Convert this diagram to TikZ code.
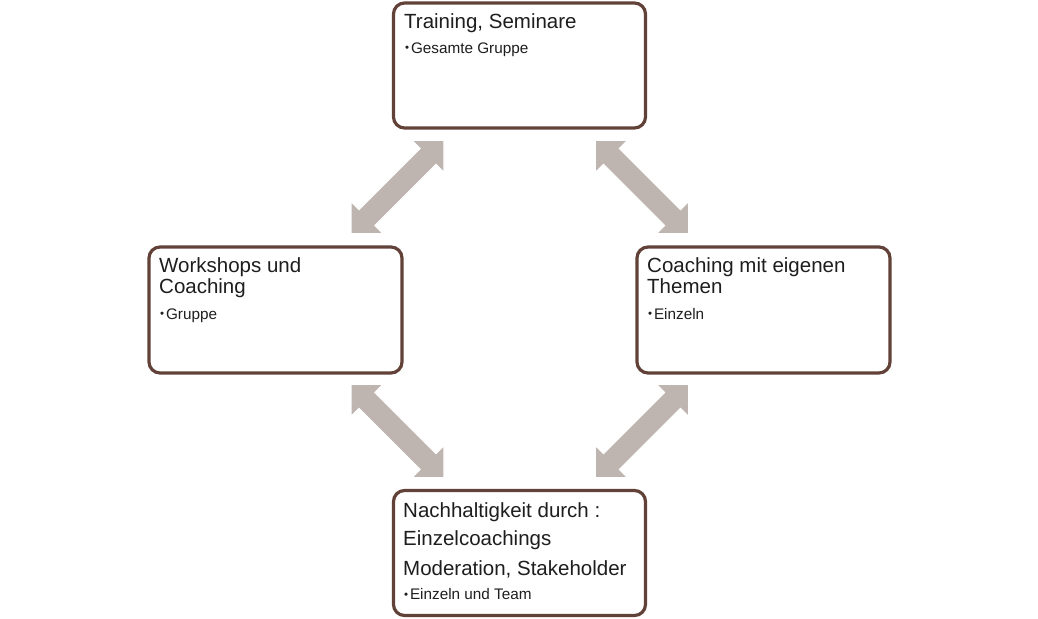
\documentclass[tikz,border=0pt]{standalone}
\usepackage{fontspec}
\setmainfont{Liberation Sans}
\definecolor{boxline}{RGB}{98,66,56}
\definecolor{arrowfill}{RGB}{190,180,176}
\definecolor{txt}{RGB}{30,30,30}
\newcommand\smallbul{\raisebox{1.2pt}{\fontsize{11.5}{12}\selectfont•}\kern1.8pt}
\begin{document}
\begin{tikzpicture}[x=1pt,y=-1pt,
  card/.style={draw=boxline,line width=3.2pt,fill=white,rounded corners=11pt},
  title/.style={anchor=base west,inner sep=0pt,text=txt,font=\fontsize{20.5}{22}\selectfont},
  bul/.style={anchor=base west,inner sep=0pt,text=txt,font=\fontsize{15.3}{17}\selectfont},
  dblarr/.pic={\fill[arrowfill] (-65,0) -- (-44,21) -- (-44,10.5) -- (44,10.5) -- (44,21) -- (65,0) -- (44,-21) -- (44,-10.5) -- (-44,-10.5) -- (-44,-21) -- cycle;}
]
\useasboundingbox (0,0) rectangle (1038,618);
\fill[white] (0,0) rectangle (1038,618);
% boxes
\draw[card] (393.5,3) rectangle (645.5,128) node[coordinate] (topbox) {};
\draw[card] (149,247) rectangle (402,373) node[coordinate] (leftbox) {};
\draw[card] (637,247) rectangle (890,373) node[coordinate] (rightbox) {};
\draw[card] (393.5,490.5) rectangle (645.5,615.5) node[coordinate] (botbox) {};
% arrows
\pic[rotate=45] (a1) at (397.5,187) {dblarr};
\pic[rotate=-45] (a2) at (642,187) {dblarr};
\pic[rotate=-45] (a3) at (397.5,431) {dblarr};
\pic[rotate=45] (a4) at (642,431) {dblarr};
% texts
\node[title] (t1) at (404,29) {Training, Seminare};
\node[bul] (t2) at (405,53) {\smallbul Gesamte Gruppe};
\node[title] (l1) at (159,272) {Workshops und};
\node[title] (l2) at (159,293.5) {Coaching};
\node[bul] (l3) at (160,319) {\smallbul Gruppe};
\node[title] (r1) at (647,272) {Coaching mit eigenen};
\node[title] (r2) at (647,293.5) {Themen};
\node[bul] (r3) at (648,319) {\smallbul Einzeln};
\node[title] (b1) at (403,517) {Nachhaltigkeit durch :};
\node[title] (b2) at (403,545.5) {Einzelcoachings};
\node[title] (b3) at (403,575) {Moderation, Stakeholder};
\node[bul] (b4) at (404,599.5) {\smallbul Einzeln und Team};
\end{tikzpicture}
\end{document}
